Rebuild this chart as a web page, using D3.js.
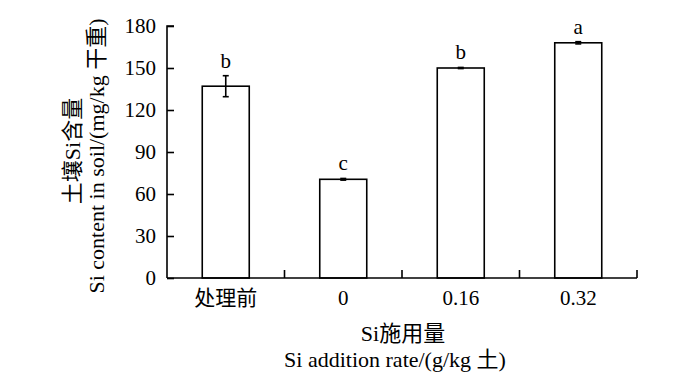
<!DOCTYPE html>
<html><head><meta charset="utf-8">
<script src="https://cdn.jsdelivr.net/npm/d3@7"></script>
<style>
body{margin:0;background:#fff;}
text{font-family:"Liberation Serif","Times New Roman","Noto Sans CJK SC",serif;fill:#000;}
</style></head>
<body><svg id="c" width="700" height="386"></svg>
<script>
const categories = ["处理前", "0", "0.16", "0.32"];
const values = [137, 70.5, 150, 168];
const errors = [7.5, 0.6, 0.4, 0.8];
const letters = ["b", "c", "b", "a"];
const yTicks = [0, 30, 60, 90, 120, 150, 180];
const yTitle = ["土壤Si含量", "Si content in soil/(mg/kg 干重)"];
const xTitle = ["Si施用量", "Si addition rate/(g/kg 土)"];

(function () {
const svg = d3.select("#c");
const pl = 167, pr = 637, pt = 26, pb = 278;
const x = d3.scaleBand().domain(categories).range([pl, pr]).padding(0);
const y = d3.scaleLinear().domain([0, 180]).range([pb, pt]);
const fs = 21, fsT = 22;

// bars
const bw = x.bandwidth() * 0.4;
svg.selectAll("rect.bar").data(values).enter().append("rect")
  .attr("x", (d, i) => x(categories[i]) + x.bandwidth() / 2 - bw / 2)
  .attr("y", d => y(d))
  .attr("width", bw).attr("height", d => y(0) - y(d))
  .attr("fill", "#fff").attr("stroke", "#000").attr("stroke-width", 1.6);

// error bars
const g = svg.append("g").attr("stroke", "#000").attr("stroke-width", 1.6);
values.forEach((v, i) => {
  const cx = x(categories[i]) + x.bandwidth() / 2;
  g.append("line").attr("x1", cx).attr("x2", cx).attr("y1", y(v + errors[i])).attr("y2", y(v - errors[i]));
  g.append("line").attr("x1", cx - 3).attr("x2", cx + 3).attr("y1", y(v + errors[i])).attr("y2", y(v + errors[i]));
  g.append("line").attr("x1", cx - 3).attr("x2", cx + 3).attr("y1", y(v - errors[i])).attr("y2", y(v - errors[i]));
});

// letters
svg.selectAll("text.lt").data(letters).enter().append("text")
  .attr("x", (d, i) => x(categories[i]) + x.bandwidth() / 2)
  .attr("y", (d, i) => y(values[i] + errors[i]) - 8)
  .attr("text-anchor", "middle").attr("font-size", fs).text(d => d);

// y axis
const yAxis = d3.axisRight(y).tickValues(yTicks).tickSize(7).tickFormat(d3.format("d"));
const ya = svg.append("g").attr("transform", `translate(${pl},0)`).call(yAxis);
ya.select(".domain").attr("stroke-width", 1.6).attr("d", `M7,${pt}H0V${pb}`);
ya.selectAll(".tick line").attr("stroke-width", 1.6);
ya.selectAll(".tick text").attr("x", -11).attr("text-anchor", "end")
  .attr("font-size", fs).attr("font-family", "Liberation Serif").attr("fill", "#000");

// x axis
const xa = svg.append("g").attr("transform", `translate(0,${pb})`);
xa.append("line").attr("x1", pl).attr("x2", pr).attr("y1", 0).attr("y2", 0)
  .attr("stroke", "#000").attr("stroke-width", 1.6);
const bounds = categories.map(c => x(c)).concat([pr]);
bounds.slice(1).forEach(bx => {
  xa.append("line").attr("x1", bx).attr("x2", bx).attr("y1", 0).attr("y2", -8)
    .attr("stroke", "#000").attr("stroke-width", 1.6);
});
xa.selectAll("text.xl").data(categories).enter().append("text")
  .attr("x", d => x(d) + x.bandwidth() / 2).attr("y", 27)
  .attr("text-anchor", "middle").attr("font-size", fs).text(d => d);

// titles
svg.append("text").attr("x", 403).attr("y", 341).attr("text-anchor", "middle")
  .attr("font-size", fsT).text(xTitle[0]);
svg.append("text").attr("x", 395).attr("y", 367).attr("text-anchor", "middle")
  .attr("font-size", fsT).text(xTitle[1]);
svg.append("text").attr("transform", "translate(80,151) rotate(-90)").attr("text-anchor", "middle")
  .attr("font-size", fsT).text(yTitle[0]);
svg.append("text").attr("transform", "translate(104,156) rotate(-90)").attr("text-anchor", "middle")
  .attr("font-size", fsT).text(yTitle[1]);
})();
</script></body></html>
